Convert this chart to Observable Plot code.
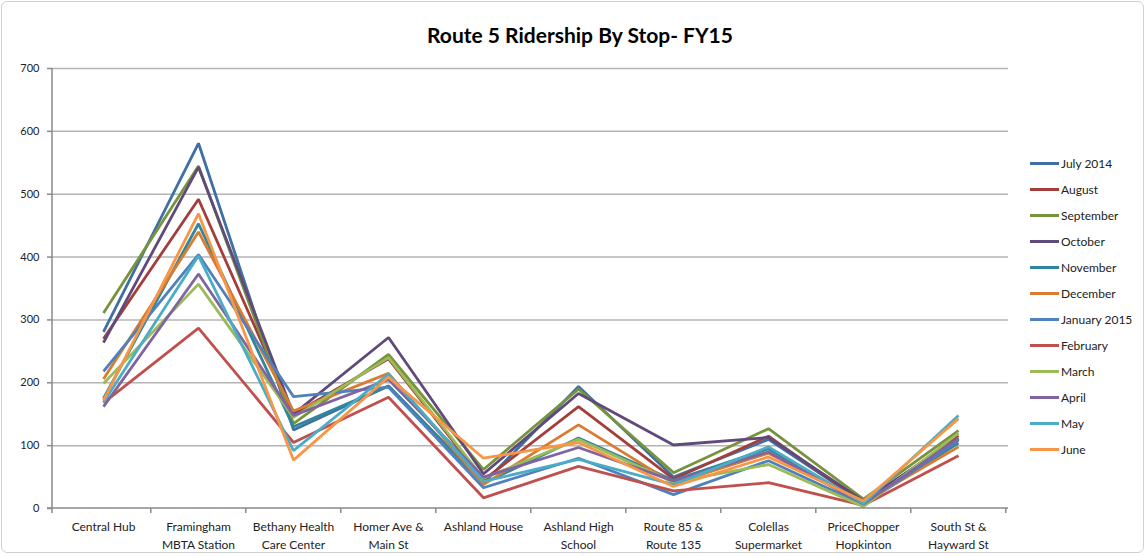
<!DOCTYPE html>
<html><head><meta charset="utf-8">
<script src="https://cdn.jsdelivr.net/npm/d3@7"></script>
<script src="https://cdn.jsdelivr.net/npm/@observablehq/plot@0.6"></script>
<style>
body{margin:0;background:#fff;font-family:Lato,"Open Sans",sans-serif;}
#wrap{position:relative;width:1147px;height:556px;overflow:hidden;}
#border{position:absolute;left:1px;top:1px;width:1143px;height:552px;border:1px solid #d0d0d0;border-radius:6px;box-sizing:border-box;}
#title{position:absolute;left:0;top:22px;width:1160px;text-align:center;font-weight:bold;font-size:21px;color:#000;}
#legend{position:absolute;left:1030px;top:150px;font-size:12px;color:#222;}
#legend .row{height:26px;display:flex;align-items:center;}
#legend .sw{width:29px;height:3px;margin-right:2px;}
#chart{position:absolute;left:0;top:0;}
</style></head><body>
<div id="wrap"><div id="border"></div><div id="chart"></div><div id="title">Route 5 Ridership By Stop- FY15</div><div id="legend"></div></div>
<script>
const stops = ["Central Hub","Framingham MBTA Station","Bethany Health Care Center","Homer Ave & Main St","Ashland House","Ashland High School","Route 85 & Route 135","Colellas Supermarket","PriceChopper Hopkinton","South St & Hayward St"];
const stopLabels = ["Central Hub","Framingham\nMBTA Station","Bethany Health\nCare Center","Homer Ave &\nMain St","Ashland House","Ashland High\nSchool","Route 85 &\nRoute 135","Colellas\nSupermarket","PriceChopper\nHopkinton","South St &\nHayward St"];
const months = ["July 2014","August","September","October","November","December","January 2015","February","March","April","May","June"];
const colors = ["#3f6fa3","#a33e3b","#77933c","#604a7b","#31859c","#d97b30","#4f81bd","#c0504d","#9bbb59","#8064a2","#4bacc6","#f79646"];
const yTicks = [0,100,200,300,400,500,600,700];

const july2014 = [281,581,125,195,40,194,50,110,10,110];
const august   = [270,492,150,238,45,162,47,115,8,116];
const september= [311,545,135,245,62,190,57,127,15,124];
const october  = [264,543,150,272,55,183,101,113,12,112];
const november = [175,453,130,195,40,112,45,95,8,104];
const december = [206,440,155,215,38,133,40,88,10,98];
const january2015 = [218,404,178,193,33,80,22,76,6,108];
const february = [168,287,105,177,17,67,28,41,5,84];
const march    = [199,357,145,240,48,110,42,70,3,120];
const april    = [162,373,148,205,50,97,44,90,7,112];
const may      = [169,402,92,214,43,78,38,98,8,148];
const june     = [172,469,77,209,80,105,35,82,12,143];

const series = [july2014,august,september,october,november,december,january2015,february,march,april,may,june];
const rows = [];
series.forEach((vals,i)=>vals.forEach((v,j)=>rows.push({month:months[i],stop:stops[j],value:v})));
const labelOf = new Map(stops.map((s,i)=>[s,stopLabels[i]]));

const W=1147,H=556,ML=52,MR=139,MT=68,MB=48;

function axesFrame(index, scales, values, dims){
  const g = d3.create("svg:g");
  const step = (dims.width - dims.marginLeft - dims.marginRight)/stops.length;
  const y0 = dims.height - dims.marginBottom;
  g.append("line").attr("x1",dims.marginLeft).attr("x2",dims.marginLeft).attr("y1",dims.marginTop).attr("y2",y0).attr("stroke","#8a8a8a").attr("stroke-width",1.5);
  g.append("line").attr("x1",dims.marginLeft-5).attr("x2",dims.width-dims.marginRight).attr("y1",y0).attr("y2",y0).attr("stroke","#8a8a8a").attr("stroke-width",1.5);
  stops.forEach(s=>{
    const bx = scales.x(s) + step/2;
    g.append("line").attr("x1",bx).attr("x2",bx).attr("y1",y0).attr("y2",y0+5).attr("stroke","#8a8a8a").attr("stroke-width",1.5);
  });
  g.append("line").attr("x1",dims.marginLeft).attr("x2",dims.marginLeft).attr("y1",y0).attr("y2",y0+5).attr("stroke","#8a8a8a").attr("stroke-width",1.5);
  return g.node();
}

const chart = Plot.plot({
  width: W, height: H,
  marginLeft: ML, marginRight: MR, marginTop: MT, marginBottom: MB,
  style: {fontFamily: "Lato, 'Open Sans', sans-serif", background: "transparent", overflow: "visible"},
  x: {type: "point", domain: stops, padding: 0.5},
  y: {domain: [0,700]},
  color: {domain: months, range: colors},
  marks: [
    Plot.gridY(yTicks.filter(d=>d>0), {stroke: "#b4b4b4", strokeOpacity: 1, strokeWidth: 1.5}),
    Plot.axisY({ticks: yTicks, tickSize: 5, tickPadding: 8, label: null, fontSize: 11, stroke: "#8a8a8a", strokeWidth: 1.5, color: "#222"}),
    Plot.axisX({tickSize: 0, tickPadding: 10, label: null, fontSize: 12, lineHeight: 1.5, tickFormat: d=>labelOf.get(d), fill: "#222"}),
    Plot.line(rows, {x: "stop", y: "value", z: "month", stroke: "month", strokeWidth: 2.8, strokeLinejoin: "miter", strokeLinecap: "butt"}),
    axesFrame
  ]
});
document.getElementById("chart").appendChild(chart);

const leg = document.getElementById("legend");
months.forEach((m,i)=>{
  const r = document.createElement("div"); r.className="row";
  const s = document.createElement("div"); s.className="sw"; s.style.background=colors[i];
  const t = document.createElement("span"); t.textContent=m;
  r.appendChild(s); r.appendChild(t); leg.appendChild(r);
});
</script>
</body></html>
